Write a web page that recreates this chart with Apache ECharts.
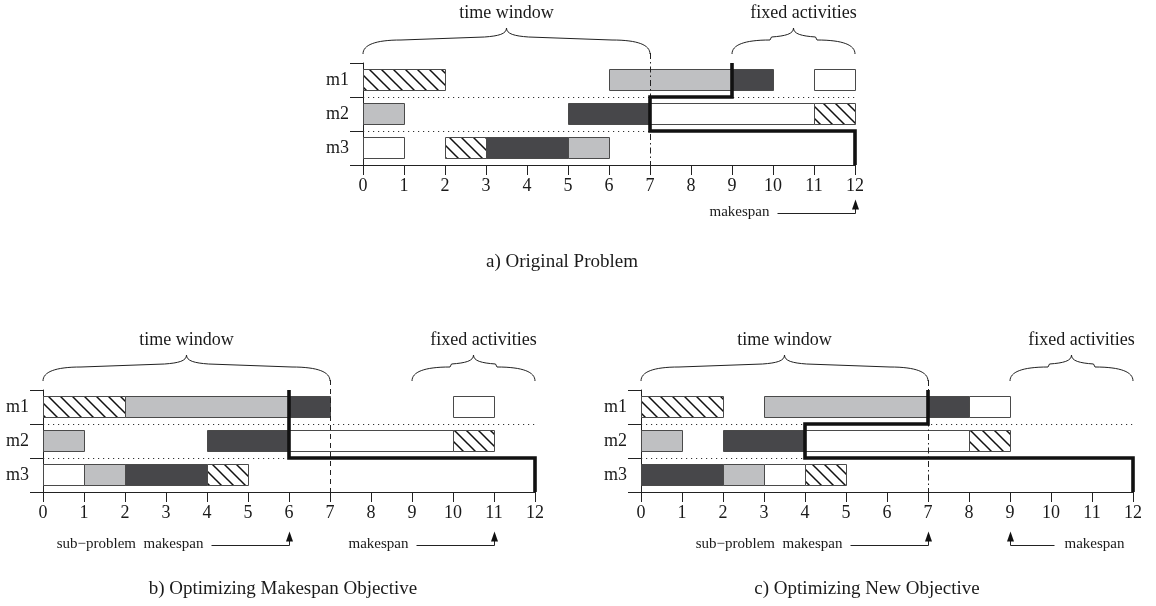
<!DOCTYPE html>
<html><head><meta charset="utf-8">
<script src="https://cdn.jsdelivr.net/npm/echarts@6/dist/echarts.min.js"></script>
<style>html,body{margin:0;padding:0;background:#fff}#c{width:1156px;height:606px}</style>
</head><body><div id="c"></div><script>
// ---------------- data ----------------
const machines = ['m1', 'm2', 'm3'];
const xTicks = [0,1,2,3,4,5,6,7,8,9,10,11,12];
// [machine, job, start, end]
const tasksA = [
  ['m1','J1',0,2],['m1','J2',6,9],['m1','J3',9,10],['m1','J4',11,12],
  ['m2','J2',0,1],['m2','J3',5,7],['m2','J4',7,11],['m2','J1',11,12],
  ['m3','J4',0,1],['m3','J1',2,3],['m3','J3',3,5],['m3','J2',5,6]
];
const tasksB = [
  ['m1','J1',0,2],['m1','J2',2,6],['m1','J3',6,7],['m1','J4',10,11],
  ['m2','J2',0,1],['m2','J3',4,6],['m2','J4',6,10],['m2','J1',10,11],
  ['m3','J4',0,1],['m3','J2',1,2],['m3','J3',2,4],['m3','J1',4,5]
];
const tasksC = [
  ['m1','J1',0,2],['m1','J2',3,7],['m1','J3',7,8],['m1','J4',8,9],
  ['m2','J2',0,1],['m2','J3',2,4],['m2','J4',4,8],['m2','J1',8,9],
  ['m3','J3',0,2],['m3','J2',2,3],['m3','J4',3,4],['m3','J1',4,5]
];
// critical path: [time, row boundary (0 = top of m1 ... 3 = bottom of m3)]
const pathA = [[9,0],[9,1],[7,1],[7,2],[12,2],[12,3]];
const pathB = [[6,0],[6,2],[12,2],[12,3]];
const pathC = [[7,0],[7,1],[4,1],[4,2],[12,2],[12,3]];
const timeWindow = [0, 7];
const fixedActivities = [9, 12];
const windowEnd = 7;
const annotA = [{text:'makespan', at:12, side:'left'}];
const annotB = [{text:'sub\u2212problem  makespan', at:6, side:'left'}, {text:'makespan', at:11, side:'left'}];
const annotC = [{text:'sub\u2212problem  makespan', at:7, side:'left'}, {text:'makespan', at:9, side:'right'}];
const titles = ['a) Original Problem', 'b) Optimizing Makespan Objective', 'c) Optimizing New Objective'];

// ---------------- styles / layout ----------------
const SERIF = '"Liberation Serif","DejaVu Serif",serif';
const INK = '#1a1a1a';
function hatchCanvas(){
  const c = document.createElement('canvas'); c.width = 12; c.height = 12;
  const g = c.getContext('2d');
  g.fillStyle = '#fff'; g.fillRect(0,0,12,12);
  g.strokeStyle = '#111'; g.lineWidth = 1.5; g.beginPath();
  g.moveTo(-2,-2); g.lineTo(14,14);
  g.moveTo(-2,10); g.lineTo(2,14);
  g.moveTo(10,-2); g.lineTo(14,2);
  g.stroke();
  return c;
}
const hatch = {image: hatchCanvas(), repeat: 'repeat'};
const jobFill = {J1: hatch, J2: '#bfc0c2', J3: '#47474a', J4: '#ffffff'};
const grids = [
  {left:363, top:63, width:492, height:102},
  {left:43, top:390, width:492, height:102},
  {left:641, top:390, width:492, height:102}
];
const refDash = [[6,3,1.5,3],[5,4],[6,3,1.5,3]];
const annotDrop = [48, 53, 53];
const titlePos = [[557,248],[278,575],[862,575]];

function barSeries(tasks, gi){
  return {
    type:'custom', coordinateSystem:'cartesian2d', xAxisIndex:gi, yAxisIndex:gi,
    encode:{x:[2,3], y:0}, clip:false, silent:true,
    data: tasks,
    renderItem(params, api){
      const row = api.value(0);
      const s = api.coord([api.value(2), row]);
      const e = api.coord([api.value(3), row]);
      const band = api.size([0,1])[1];
      const h = Math.round(band*0.62);
      const y = Math.round(s[1] - h/2) - 0.5;
      const job = tasks[params.dataIndex][1];
      return {type:'rect', shape:{x:Math.round(s[0])+0.5, y:y, width:Math.round(e[0]-s[0]), height:h},
        style:{fill: jobFill[job], stroke:'#4a4a4a', lineWidth:1}};
    }
  };
}

function decoSeries(path, annots, gi){
  return {
    type:'custom', coordinateSystem:'cartesian2d', xAxisIndex:gi, yAxisIndex:gi,
    encode:{x:0, y:1}, clip:false, silent:true, z:5,
    data:[[0,'m1']],
    renderItem(params, api){
      const X = v => api.coord([v, 0])[0];
      const r0 = api.coord([0,0])[1], r1 = api.coord([0,1])[1];
      const band = r1 - r0;
      const B = k => r0 - band/2 + k*band;
      const top = B(0), bottom = B(3);
      const ch = [];
      // dotted separators
      for (let k = 1; k < machines.length; k++) {
        const y = Math.round(B(k)) + 0.5;
        ch.push({type:'line', shape:{x1:X(0), y1:y, x2:X(12), y2:y},
          style:{stroke:'#333', lineWidth:1, lineDash:[1.2,3.8]}});
      }
      // window end reference line
      const xr = Math.round(X(windowEnd)) + 0.5;
      ch.push({type:'line', shape:{x1:xr, y1:top-10, x2:xr, y2:bottom},
        style:{stroke:'#222', lineWidth:1, lineDash:refDash[gi]}});
      // braces
      function brace(a, b, label, dx){
        const x0 = X(a), x1 = X(b), xc = (x0+x1)/2;
        const yE = top-9, yM = top-23, yT = top-35;
        const d = `M${x0},${yE} C${x0},${yE-9} ${x0+12},${yM} ${x0+38},${yM} ` +
          `L${xc-22},${yM-3} C${xc-8},${yM-4} ${xc},${yM-6} ${xc},${yT} ` +
          `C${xc},${yM-6} ${xc+8},${yM-4} ${xc+22},${yM-3} ` +
          `L${x1-38},${yM} C${x1-12},${yM} ${x1},${yE-9} ${x1},${yE}`;
        ch.push({type:'path', shape:{pathData:d}, style:{fill:null, stroke:'#222', lineWidth:1}});
        ch.push({type:'text', x:xc+dx, y:top-50, style:{text:label, font:`18px ${SERIF}`, fill:INK, align:'center', verticalAlign:'middle'}});
      }
      brace(timeWindow[0], timeWindow[1], 'time window', 0);
      brace(fixedActivities[0], fixedActivities[1], 'fixed activities', 10);
      // critical path
      ch.push({type:'polyline', shape:{points: path.map(p => [X(p[0]), B(p[1])])},
        style:{fill:null, stroke:'#111', lineWidth:3.6, lineJoin:'miter', lineCap:'butt'}});
      // annotations
      const lineY = Math.round(bottom + annotDrop[gi]) + 0.5, tipY = lineY - 14;
      annots.forEach(an => {
        const xa = Math.round(X(an.at)) + 0.5;
        const L = an.side === 'left' ? 78 : 44;
        const xs = an.side === 'left' ? xa - L : xa + L;
        ch.push({type:'polyline', shape:{points:[[xs,lineY],[xa,lineY],[xa,tipY+8]]},
          style:{fill:null, stroke:'#222', lineWidth:1}});
        ch.push({type:'polygon', shape:{points:[[xa,tipY],[xa-3.5,tipY+10],[xa+3.5,tipY+10]]},
          style:{fill:'#111'}});
        ch.push({type:'text', x: an.side === 'left' ? xs - 8 : xs + 10, y: lineY - 1,
          style:{text:an.text, font:`15px ${SERIF}`, fill:INK,
            align: an.side === 'left' ? 'right' : 'left', verticalAlign:'middle'}});
      });
      return {type:'group', children: ch};
    }
  };
}

const axisLineStyle = {color:'#222', width:1};
const option = {
  animation:false,
  backgroundColor:'#fff',
  title: titles.map((t,i) => ({text:t, left:titlePos[i][0], top:titlePos[i][1], textAlign:'center',
    textStyle:{fontFamily:SERIF, fontWeight:'normal', fontSize:19, color:INK}})),
  grid: grids.map(g => Object.assign({containLabel:false}, g)),
  xAxis: grids.map((g,i) => ({
    type:'value', gridIndex:i, min:0, max:12, interval:1,
    axisLine:{show:true, onZero:false, lineStyle:axisLineStyle},
    axisTick:{show:true, length:10, lineStyle:axisLineStyle},
    axisLabel:{fontFamily:SERIF, fontSize:18, color:INK, margin:12,
      formatter: v => String(xTicks[Math.round(v)])},
    splitLine:{show:false}
  })),
  yAxis: grids.map((g,i) => ({
    type:'category', gridIndex:i, data:machines, inverse:true,
    axisLine:{show:true, lineStyle:axisLineStyle},
    axisTick:{show:true, length:13, lineStyle:axisLineStyle},
    axisLabel:{fontFamily:SERIF, fontSize:18, color:INK, margin:14},
    splitLine:{show:false}
  })),
  series: [
    barSeries(tasksA,0), barSeries(tasksB,1), barSeries(tasksC,2),
    decoSeries(pathA, annotA, 0), decoSeries(pathB, annotB, 1), decoSeries(pathC, annotC, 2)
  ]
};
const chart = echarts.init(document.getElementById('c'), null, {renderer:'canvas'});
chart.setOption(option);
</script></body></html>
